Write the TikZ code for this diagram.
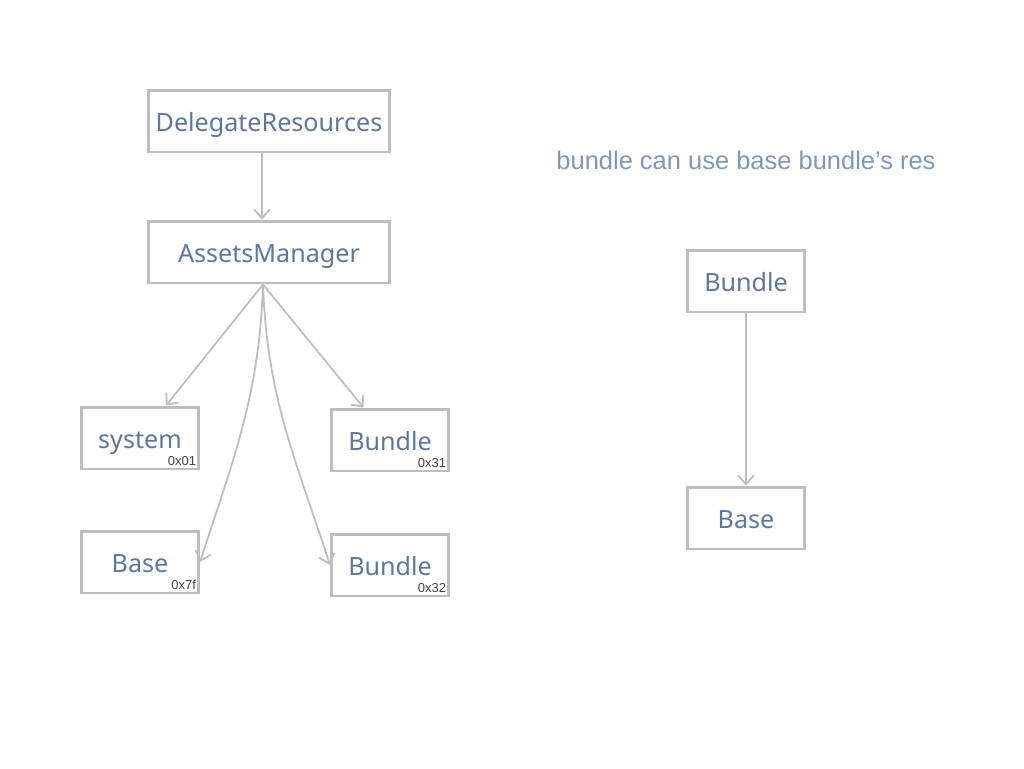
\documentclass[tikz,border=0pt]{standalone}
\usepackage{fontspec}
\setmainfont{Noto Sans}
\newfontfamily\notefont{Liberation Sans}
\usepackage{xcolor}
\usetikzlibrary{arrows.meta}
\definecolor{boxline}{HTML}{BDBDBD}
\definecolor{boxtext}{HTML}{5B779C}
\definecolor{notetext}{HTML}{7F97B7}
\definecolor{idtext}{HTML}{404040}
\tikzset{
  resbox/.style={draw=boxline,line width=1.7pt,text=boxtext,font=\fontsize{14.3}{16}\selectfont,minimum height=1.24cm,inner sep=0pt,text height=14pt,text depth=1.6pt},
  wide/.style={minimum width=4.82cm},
  narrow/.style={minimum width=2.34cm},
  pkgid/.style={anchor=south east,inner sep=1.5pt,text=idtext,font=\notefont\fontsize{7.4}{8}\selectfont},
  link/.style={draw=boxline,line width=1pt,-{Straight Barb[length=5pt,width=9pt]}}
}
\begin{document}
\begin{tikzpicture}[x=0.02cm,y=-0.02cm]
\useasboundingbox (0,0) rectangle (1024,768);
\node(dr) at (269,121)[resbox,wide] {DelegateResources};
\node(am) at (269,252)[resbox,wide] {AssetsManager};
\node(sys) at (140,438)[resbox,narrow] {system};
\node(b31) at (390,440)[resbox,narrow] {Bundle};
\node(base) at (140,562)[resbox,narrow] {Base};
\node(b32) at (390,565)[resbox,narrow] {Bundle};
\node(id01) at ([xshift=-0.02cm,yshift=0.04cm]sys.south east)[pkgid] {0x01};
\node(id31) at ([xshift=-0.02cm,yshift=0.04cm]b31.south east)[pkgid] {0x31};
\node(id7f) at ([xshift=-0.02cm,yshift=0.04cm]base.south east)[pkgid] {0x7f};
\node(id32) at ([xshift=-0.02cm,yshift=0.04cm]b32.south east)[pkgid] {0x32};
% right hand side
\node(note) at (746,160)[text=notetext,font=\notefont\fontsize{14.5}{16}\selectfont] {bundle can use base bundle’s res};
\node(rbundle) at (746,281)[resbox,narrow] {Bundle};
\node(rbase) at (746,518)[resbox,narrow] {Base};
\coordinate(amout) at ([xshift=-0.12cm]am.south);
\draw[link] ([xshift=-0.14cm]dr.south) -- ([xshift=-0.14cm]am.north);
\draw[link] (amout) -- (sys);
\draw[link] (amout) -- (b31);
\draw[link] (amout) to[out=-92,in=72] (base.east);
\draw[link] (amout) to[out=-88,in=108] (b32.west);
\draw[link] (rbundle) -- (rbase);
\end{tikzpicture}
\end{document}
